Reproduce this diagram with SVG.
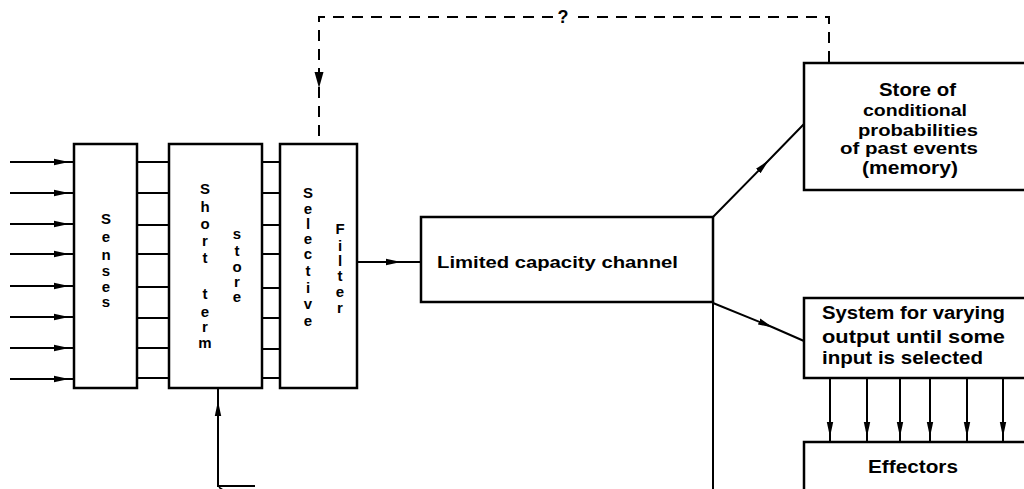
<svg xmlns="http://www.w3.org/2000/svg" width="1024" height="489" viewBox="0 0 1024 489">
<style>
.box{fill:#fff;stroke:#000;stroke-width:2.5}
.ln{fill:none;stroke:#000;stroke-width:2}
.dash{fill:none;stroke:#000;stroke-width:2;stroke-dasharray:11 8}
.t{font-family:"Liberation Sans",Arial,sans-serif;font-weight:bold;font-size:17px;fill:#000}
.v{font-family:"Liberation Sans",Arial,sans-serif;font-weight:bold;font-size:15px;fill:#000;text-anchor:middle}
</style>
<defs>
<marker id="ah" markerWidth="16" markerHeight="8" refX="14" refY="4" orient="auto" markerUnits="userSpaceOnUse">
<path d="M0,0.8 L15,4 L0,7.2 z" fill="#000"/>
</marker>
</defs>
<rect width="1024" height="489" fill="#fff"/>
<g id="connectors">
<polyline class="ln" points="10,162 68,162 74,162" marker-mid="url(#ah)"/>
<polyline class="ln" points="10,193 68,193 74,193" marker-mid="url(#ah)"/>
<polyline class="ln" points="10,224 68,224 74,224" marker-mid="url(#ah)"/>
<polyline class="ln" points="10,254 68,254 74,254" marker-mid="url(#ah)"/>
<polyline class="ln" points="10,286 68,286 74,286" marker-mid="url(#ah)"/>
<polyline class="ln" points="10,317 68,317 74,317" marker-mid="url(#ah)"/>
<polyline class="ln" points="10,348 68,348 74,348" marker-mid="url(#ah)"/>
<polyline class="ln" points="10,379 68,379 74,379" marker-mid="url(#ah)"/>
<path class="ln" d="M137,162H169M137,193H169M137,225H169M137,254H169M137,287H169M137,318H169M137,348H169M137,378H169"/>
<path class="ln" d="M262,162H280M262,193H280M262,225H280M262,254H280M262,288H280M262,318H280M262,349H280M262,378H280"/>
<polyline class="ln" points="357,262 400,262 421,262" marker-mid="url(#ah)"/>
<polyline class="ln" points="713,217 768,161 804,124" marker-mid="url(#ah)"/>
<polyline class="ln" points="713,303 772,327 804,341" marker-mid="url(#ah)"/>
<path class="ln" d="M713,302V489"/>
<polyline class="ln" points="255,486 218,486 218,402 218,388" marker-mid="url(#ah)"/>
<path class="dash" d="M829,62V17H574"/>
<path class="dash" d="M553,17H319V144"/>
<path d="M319,72 L323.5,72 L319,88 L314.5,72 z" fill="#000"/>
<text class="t" x="563" y="23" text-anchor="middle" style="font-size:18px">?</text>
<polyline class="ln" points="830,378 830,436 830,442" marker-mid="url(#ah)"/>
<polyline class="ln" points="867,378 867,436 867,442" marker-mid="url(#ah)"/>
<polyline class="ln" points="900,378 900,436 900,442" marker-mid="url(#ah)"/>
<polyline class="ln" points="930,378 930,436 930,442" marker-mid="url(#ah)"/>
<polyline class="ln" points="967,378 967,436 967,442" marker-mid="url(#ah)"/>
<polyline class="ln" points="1003,378 1003,436 1003,442" marker-mid="url(#ah)"/>
</g>
<g id="senses">
<rect class="box" x="74" y="144" width="63" height="244"/>
<text class="v"><tspan x="106" y="224">S</tspan><tspan x="106" y="242">e</tspan><tspan x="106" y="260">n</tspan><tspan x="106" y="276">s</tspan><tspan x="106" y="292">e</tspan><tspan x="106" y="307">s</tspan></text>
</g>
<g id="short-term-store">
<rect class="box" x="169" y="144" width="93" height="244"/>
<text class="v"><tspan x="205" y="194">S</tspan><tspan x="205" y="212">h</tspan><tspan x="205" y="229">o</tspan><tspan x="205" y="246">r</tspan><tspan x="205" y="263">t</tspan><tspan x="205" y="299">t</tspan><tspan x="205" y="317">e</tspan><tspan x="205" y="332">r</tspan><tspan x="205" y="348">m</tspan></text>
<text class="v"><tspan x="237" y="239">s</tspan><tspan x="237" y="256">t</tspan><tspan x="237" y="272">o</tspan><tspan x="237" y="287">r</tspan><tspan x="237" y="302">e</tspan></text>
</g>
<g id="selective-filter">
<rect class="box" x="280" y="144" width="77" height="244"/>
<text class="v"><tspan x="308" y="198">S</tspan><tspan x="308" y="214">e</tspan><tspan x="308" y="229">l</tspan><tspan x="308" y="244">e</tspan><tspan x="308" y="259">c</tspan><tspan x="308" y="276">t</tspan><tspan x="308" y="293">i</tspan><tspan x="308" y="309">v</tspan><tspan x="308" y="326">e</tspan></text>
<text class="v"><tspan x="340" y="234">F</tspan><tspan x="340" y="251">i</tspan><tspan x="340" y="266">l</tspan><tspan x="340" y="281">t</tspan><tspan x="340" y="297">e</tspan><tspan x="340" y="313">r</tspan></text>
</g>
<g id="limited-capacity-channel">
<rect class="box" x="421" y="217" width="292" height="85"/>
<text class="t" x="437" y="268" textLength="241" lengthAdjust="spacingAndGlyphs" style="font-size:16px">Limited capacity channel</text>
</g>
<g id="memory">
<rect class="box" x="804" y="63" width="240" height="127"/>
<text class="t" x="879" y="96" textLength="77" lengthAdjust="spacingAndGlyphs" style="font-size:18px">Store of</text>
<text class="t" x="863" y="116" textLength="104" lengthAdjust="spacingAndGlyphs">conditional</text>
<text class="t" x="858" y="136" textLength="120" lengthAdjust="spacingAndGlyphs">probabilities</text>
<text class="t" x="840" y="154" textLength="138" lengthAdjust="spacingAndGlyphs">of past events</text>
<text class="t" x="862" y="174" textLength="96" lengthAdjust="spacingAndGlyphs" style="font-size:18px">(memory)</text>
</g>
<g id="system">
<rect class="box" x="804" y="298" width="240" height="80"/>
<text class="t" x="822" y="319" textLength="183" lengthAdjust="spacingAndGlyphs" style="font-size:18px">System for varying</text>
<text class="t" x="822" y="343" textLength="183" lengthAdjust="spacingAndGlyphs" style="font-size:18px">output until some</text>
<text class="t" x="822" y="364" textLength="161" lengthAdjust="spacingAndGlyphs" style="font-size:18px">input is selected</text>
</g>
<g id="effectors">
<rect class="box" x="804" y="442" width="240" height="60"/>
<text class="t" x="868" y="473" textLength="90" lengthAdjust="spacingAndGlyphs" style="font-size:18px">Effectors</text>
</g>
</svg>
